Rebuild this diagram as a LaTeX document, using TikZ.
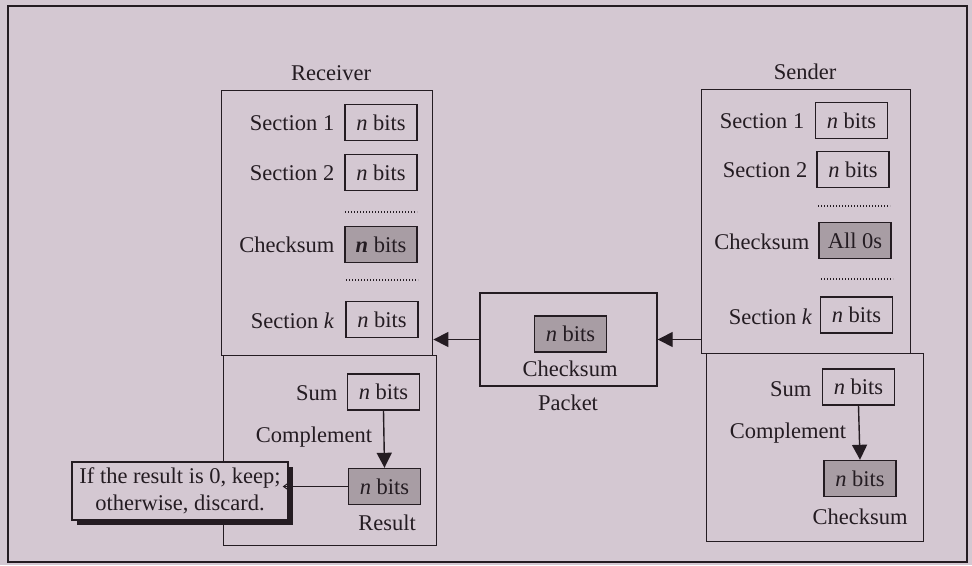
\documentclass[tikz,border=0pt]{standalone}
\usepackage{fontspec}
\setmainfont{Liberation Serif}
\usetikzlibrary{arrows.meta,calc,shadows}
\definecolor{bg}{RGB}{212,200,210}
\definecolor{ink}{RGB}{36,28,34}
\definecolor{shade}{RGB}{168,157,164}
\begin{document}
\begin{tikzpicture}[x=1pt,y=-1pt,
  font=\fontsize{22.5}{26}\selectfont,
  line width=1.4pt, draw=ink, text=ink,
  bitbox/.style={draw=ink, minimum width=72pt, minimum height=36pt, inner sep=0pt},
  shadebox/.style={bitbox, fill=shade},
  lbl/.style={inner sep=0pt, text=ink},
  bigbox/.style={draw=ink, anchor=north west, inner sep=0pt},
  tri/.style={draw=ink, -{Triangle[length=15pt,width=15pt]}},
  dotrow/.style={draw=ink, line width=1.2pt, dash pattern=on 1pt off 2pt}]
\fill[bg] (0,0) rectangle (972,565);
\useasboundingbox (0,0) rectangle (972,565);
\draw[ink] (8,6) rectangle (967,562);

% ---------------- Receiver ----------------
\node[lbl] (rlabel) at (331,73) {Receiver};
\node[bigbox, minimum width=211pt, minimum height=265pt] (rtop) at (221,90) {};
\node[bigbox, minimum width=213pt, minimum height=190pt] (rbot) at (223,355) {};
\node[bitbox] (rs1) at (381,122.5) {\textit{n} bits};
\node[bitbox] (rs2) at (381,172.5) {\textit{n} bits};
\draw[dotrow] (345,212) -- (417,212);
\node[shadebox] (rck) at (381,244.5) {\textbf{\textit{n}} bits};
\draw[dotrow] (346,280) -- (418,280);
\node[bitbox] (rsk) at (382,319.5) {\textit{n} bits};
\node[lbl, anchor=east] (rl1) at (335,123) {Section 1};
\node[lbl, anchor=east] (rl2) at (335,173) {Section 2};
\node[lbl, anchor=east] (rl3) at (335,245) {Checksum};
\node[lbl, anchor=east] (rl4) at (335,321) {Section \textit{k}};

\node[bitbox] (rsum) at (383.5,392) {\textit{n} bits};
\node[lbl, anchor=east] (rsuml) at (338,393) {Sum};
\node[shadebox] (rres) at (384.5,486.5) {\textit{n} bits};
\node[lbl] (rcomp) at (314,437) {Complement};
\node[lbl] (rresl) at (387,523) {Result};
\draw[tri] (rsum.south) -- (rres.north);

\node[draw=ink, fill=bg, align=center, minimum width=216pt, minimum height=58pt,
      inner sep=2pt, font=\fontsize{22.5}{27}\selectfont,
      drop shadow={shadow xshift=5pt, shadow yshift=-5pt, fill=ink, opacity=1}]
      (note) at (180,491) {If the result is 0, keep;\\ otherwise, discard.};
\draw[draw=ink, line width=1pt, -{Straight Barb[length=7pt,width=10pt]}, shorten >=-6pt]
      (rres.west) -- (rres.west -| note.east);

% ---------------- Packet ----------------
\node[draw=ink, minimum width=177pt, minimum height=93pt, inner sep=0pt] (packet) at (568.5,339.5) {};
\node[shadebox] (pck) at (570.5,334) {\textit{n} bits};
\node[lbl] (pckl) at (570,369) {Checksum};
\node[lbl] (pktl) at (568,403) {Packet};

% ---------------- Sender ----------------
\node[lbl] (slabel) at (805,72) {Sender};
\node[bigbox, minimum width=209pt, minimum height=264pt] (stop) at (701,89) {};
\node[bigbox, minimum width=217pt, minimum height=188pt] (sbot) at (706,353) {};
\node[bitbox] (ss1) at (851.5,120.5) {\textit{n} bits};
\node[bitbox] (ss2) at (853,169.5) {\textit{n} bits};
\draw[dotrow] (818,206) -- (890,206);
\node[shadebox] (sck) at (855,240.5) {All 0s};
\draw[dotrow] (821,279) -- (893,279);
\node[bitbox] (ssk) at (856.5,315) {\textit{n} bits};
\node[lbl, anchor=east] (sl1) at (805,121) {Section 1};
\node[lbl, anchor=east] (sl2) at (808,170) {Section 2};
\node[lbl, anchor=east] (sl3) at (810,242) {Checksum};
\node[lbl, anchor=east] (sl4) at (813,317) {Section \textit{k}};

\node[bitbox] (ssum) at (858.5,387) {\textit{n} bits};
\node[lbl, anchor=east] (ssuml) at (812,389) {Sum};
\node[shadebox] (scs) at (860,478.5) {\textit{n} bits};
\node[lbl] (scomp) at (788,433) {Complement};
\node[lbl] (scsl) at (860,517) {Checksum};
\draw[tri] (ssum.south) -- (scs.north);

% ---------------- Packet flow ----------------
\draw[tri] (stop.west |- packet.east) -- (packet.east);
\draw[tri] (packet.west) -- (rtop.east |- packet.west);
\end{tikzpicture}
\end{document}
